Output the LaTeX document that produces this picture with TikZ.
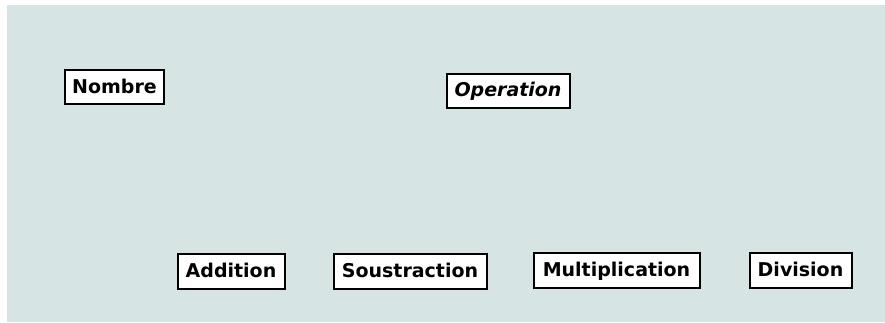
\documentclass[tikz,border=0pt]{standalone}
\usepackage{fontspec}
\setmainfont{DejaVu Sans}
\definecolor{bgc}{HTML}{D7E4E4}
\tikzset{
  cls/.style={draw=black, fill=white, line width=2pt, inner sep=0pt, text height=15pt, text depth=3pt, font=\fontsize{19}{22}\selectfont\bfseries},
}
\begin{document}
\begin{tikzpicture}[x=1pt,y=1pt]
\useasboundingbox (0,0) rectangle (885,322);
\fill[bgc] (7,0) rectangle (885,317);
\node[cls, minimum width=99pt, minimum height=34pt] (nombre) at (114.5,235) {Nombre};
\node[cls, minimum width=123pt, minimum height=34pt, font=\fontsize{19}{22}\selectfont\bfseries\itshape] (operation) at (508,231.5) {Operation};
\node[cls, minimum width=107pt, minimum height=35pt] (addition) at (231,51) {Addition};
\node[cls, minimum width=153pt, minimum height=35pt] (soustraction) at (410,51) {Soustraction};
\node[cls, minimum width=166pt, minimum height=35pt] (multiplication) at (616.5,52) {Multiplication};
\node[cls, minimum width=102pt, minimum height=35pt] (division) at (800.5,52) {Division};
\end{tikzpicture}
\end{document}
